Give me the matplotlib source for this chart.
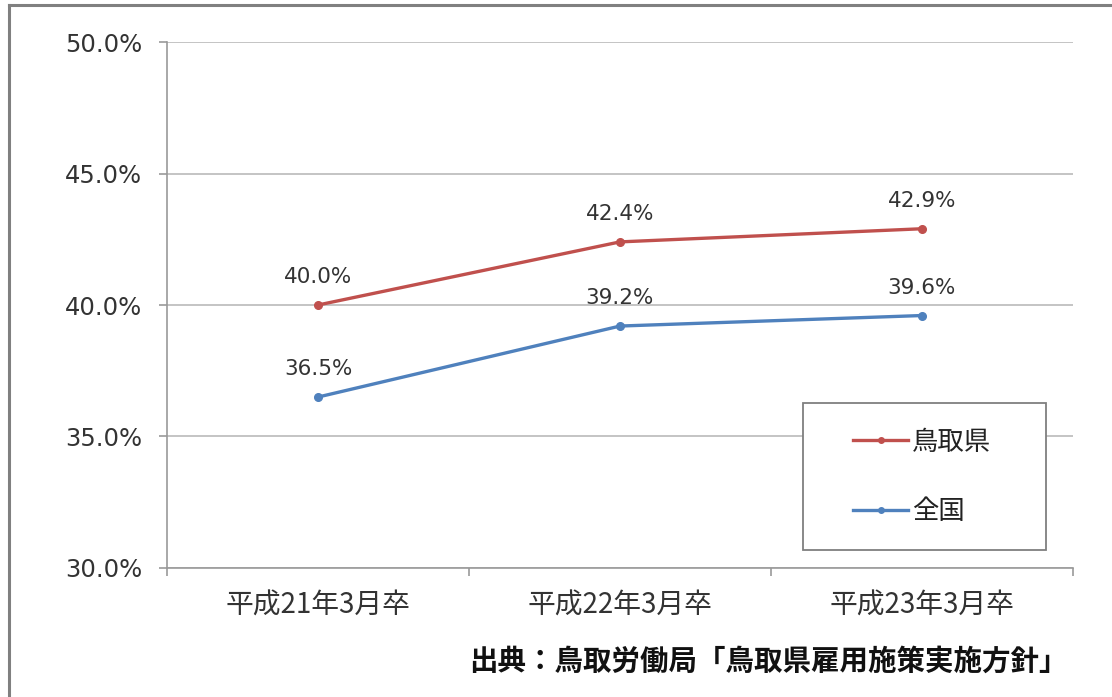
import matplotlib
matplotlib.use('Agg')
import matplotlib.pyplot as plt
from matplotlib.patches import Rectangle
from matplotlib.lines import Line2D
from matplotlib.ticker import FuncFormatter

plt.rcParams['font.family'] = ['DejaVu Sans', 'Noto Sans CJK JP']

categories = ['平成21年3月卒', '平成22年3月卒', '平成23年3月卒']
tottori = [40.0, 42.4, 42.9]
national = [36.5, 39.2, 39.6]
series_names = ['鳥取県', '全国']
source_text = '出典：鳥取労働局「鳥取県雇用施策実施方針」'

red = '#C0504D'
blue = '#4F81BD'
grid_col = '#BFBFBF'
text_col = '#333333'


def to_percent(v, pos):
    return '%.1f%%' % v


fig = plt.figure(figsize=(11.12, 6.97), dpi=100)
ax = fig.add_axes([0.1502, 0.1851, 0.8147, 0.7546])

x = range(len(categories))
ax.plot(x, tottori, color=red, lw=2.4, marker='o', ms=5.5, zorder=3)
ax.plot(x, national, color=blue, lw=2.4, marker='o', ms=5.5, zorder=3)

for xi, v in zip(x, tottori):
    ax.annotate('%.1f%%' % v, (xi, v), xytext=(0, 20), textcoords='offset points',
                ha='center', va='center', fontsize=15.5, color=text_col)
for xi, v in zip(x, national):
    ax.annotate('%.1f%%' % v, (xi, v), xytext=(0, 20), textcoords='offset points',
                ha='center', va='center', fontsize=15.5, color=text_col)

ax.set_xlim(-0.5, len(categories) - 0.5)
ax.set_ylim(30, 50)
ax.set_yticks([30, 35, 40, 45, 50])
ax.yaxis.set_major_formatter(FuncFormatter(to_percent))
ax.yaxis.grid(True, color=grid_col, lw=1.3)
ax.set_axisbelow(True)

ax.set_xticks(list(x))
ax.set_xticklabels(categories, family=['Noto Sans CJK JP'], fontsize=20, color=text_col)
ax.set_xticks([i - 0.5 for i in range(len(categories) + 1)], minor=True)
ax.tick_params(axis='x', which='major', length=0, pad=16)
ax.tick_params(axis='x', which='minor', length=6, width=1.2, color='#999999', direction='out')
ax.tick_params(axis='y', length=6, width=1.2, color='#999999', pad=12, labelsize=17.5,
               labelcolor=text_col)

for side in ['top', 'right']:
    ax.spines[side].set_visible(False)
for side in ['left', 'bottom']:
    ax.spines[side].set_color('#999999')
    ax.spines[side].set_linewidth(1.2)

# legend box drawn over the gridlines
box = Rectangle((803 / 1112, 1 - 550 / 697), 243 / 1112, 147 / 697, transform=fig.transFigure,
                facecolor='white', edgecolor='#7F7F7F', lw=1.3, zorder=5)
fig.patches.append(box)
handles = [Line2D([], [], color=red, lw=2.4, marker='o', ms=4),
           Line2D([], [], color=blue, lw=2.4, marker='o', ms=4)]
leg = fig.legend(handles, series_names, loc='center left', bbox_to_anchor=(853 / 1112, 0.316),
                 frameon=False, borderpad=0, borderaxespad=0, handlelength=2.1,
                 handletextpad=0.15, labelspacing=1.6,
                 prop={'family': ['Noto Sans CJK JP'], 'size': 19})
leg.set_zorder(6)
for t in leg.get_texts():
    t.set_color('#222222')

fig.text(1068 / 1112, 1 - 662 / 697, source_text, ha='right', va='center',
         family=['Noto Sans CJK JP'], fontsize=20.5, fontweight='bold', color='#111111')

# outer frame
fig.add_artist(Line2D([9 / 1112, 1.0], [1 - 5 / 697, 1 - 5 / 697], transform=fig.transFigure,
                      color='#808080', lw=2.2))
fig.add_artist(Line2D([9 / 1112, 9 / 1112], [1 - 5 / 697, 0.0], transform=fig.transFigure,
                      color='#808080', lw=2.2))

fig.savefig('out.png', dpi=100)
